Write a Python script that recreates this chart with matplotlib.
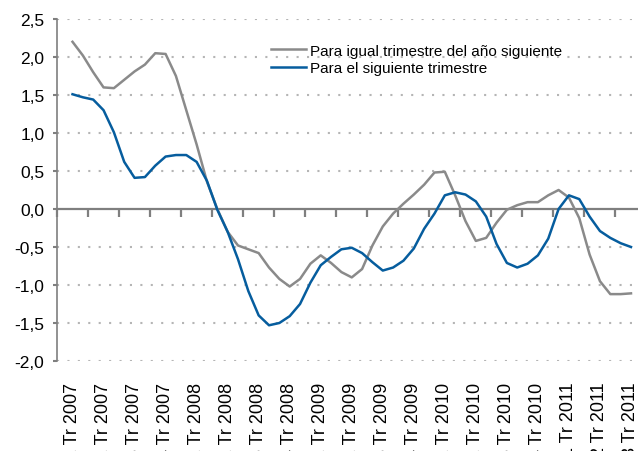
import numpy as np
import matplotlib
matplotlib.use("Agg")
import matplotlib.pyplot as plt

plt.rcParams["font.family"] = ["Liberation Sans", "DejaVu Sans"]

QUARTERS = ["1 Tr 2007", "2 Tr 2007", "3 Tr 2007", "4 Tr 2007",
            "1 Tr 2008", "2 Tr 2008", "3 Tr 2008", "4 Tr 2008",
            "1 Tr 2009", "2 Tr 2009", "3 Tr 2009", "4 Tr 2009",
            "1 Tr 2010", "2 Tr 2010", "3 Tr 2010", "4 Tr 2010",
            "1 Tr 2011", "2 Tr 2011", "3 Tr 2011"]

# monthly readings (3 per quarter), from 1 Tr 2007 to 3 Tr 2011
igual_anio = [2.20, 2.02, 1.80, 1.60, 1.59, 1.70, 1.81, 1.90, 2.05, 2.04,
              1.75, 1.30, 0.85, 0.36, 0.00, -0.30, -0.48, -0.53, -0.58, -0.77,
              -0.92, -1.02, -0.92, -0.72, -0.61, -0.71, -0.83, -0.90, -0.79, -0.48,
              -0.23, -0.06, 0.07, 0.19, 0.32, 0.48, 0.49, 0.18, -0.16, -0.42,
              -0.38, -0.18, -0.01, 0.05, 0.09, 0.09, 0.18, 0.25, 0.15, -0.12,
              -0.60, -0.95, -1.12, -1.12, -1.11]
sig_trim = [1.51, 1.47, 1.44, 1.30, 1.01, 0.62, 0.41, 0.42, 0.57, 0.69,
            0.71, 0.71, 0.62, 0.37, -0.01, -0.30, -0.66, -1.08, -1.40, -1.53,
            -1.50, -1.41, -1.25, -0.97, -0.74, -0.63, -0.53, -0.51, -0.58, -0.70,
            -0.81, -0.77, -0.68, -0.52, -0.26, -0.06, 0.18, 0.22, 0.19, 0.10,
            -0.10, -0.46, -0.71, -0.77, -0.72, -0.61, -0.39, 0.00, 0.18, 0.13,
            -0.10, -0.29, -0.38, -0.45, -0.50]

GRAY = "#8a8a8a"
BLUE = "#065d9e"
AXC = "#7f7f7f"

n = len(QUARTERS)
x = np.arange(len(igual_anio)) / 3.0

fig = plt.figure(figsize=(6.38, 4.52), dpi=100)
ax = fig.add_axes([57 / 638, 1 - 362 / 452, 589.5 / 638, 342 / 452])

yt = np.arange(-2.0, 2.51, 0.5)
for v in yt:
    if abs(v) > 1e-9:
        ax.axhline(v, color="#b5b5b5", lw=1.5, ls=(0, (1, 4)), zorder=1)

ax.plot(x, igual_anio, color=GRAY, lw=1.8, label="Para igual trimestre del año siguiente", zorder=3)
ax.plot(x, sig_trim, color=BLUE, lw=1.8, label="Para el siguiente trimestre", zorder=4)

ax.set_xlim(-0.5, n - 0.5)
ax.set_ylim(-2.0, 2.5)
ax.set_yticks(yt)
ax.set_yticklabels([f"{v:.1f}".replace(".", ",") for v in yt], fontsize=12.5)
ax.tick_params(axis="y", length=3, width=1.5, color=AXC, pad=6)

for s in ["top", "right"]:
    ax.spines[s].set_visible(False)
ax.spines["left"].set_color(AXC)
ax.spines["left"].set_linewidth(1.2)
ax.spines["bottom"].set_position(("data", 0))
ax.spines["bottom"].set_color(AXC)
ax.spines["bottom"].set_linewidth(1.6)
ax.set_xticks(np.arange(-0.5, n, 1.0))
ax.set_xticklabels([])
ax.tick_params(axis="x", length=6, width=1.6, color=AXC, direction="out")

sec = ax.secondary_xaxis("bottom")
sec.set_xticks(np.arange(n))
sec.set_xticklabels(QUARTERS, rotation=90, fontsize=13)
sec.tick_params(length=0, pad=15)
sec.spines["bottom"].set_visible(False)

ax.legend(loc="upper left", bbox_to_anchor=(0.352, 0.946), frameon=False, fontsize=11,
          handlelength=2.3, handletextpad=0.25, labelspacing=0.25, borderaxespad=0)

fig.savefig("out.png", dpi=100)
